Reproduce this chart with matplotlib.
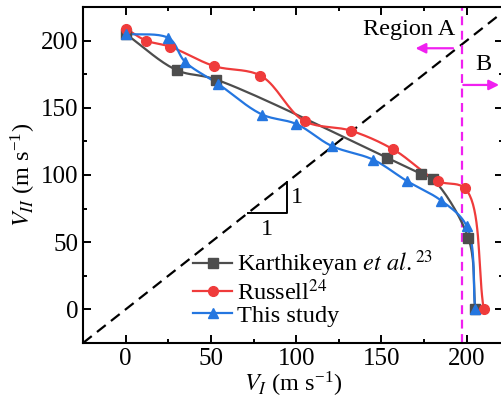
import numpy as np
import matplotlib
matplotlib.use("Agg")
import matplotlib.pyplot as plt

plt.rcParams['font.family'] = ['Liberation Serif', 'DejaVu Serif']
plt.rcParams['mathtext.fontset'] = 'stix'

# Velocity pairs (m/s)
karth_vi = [0, 30, 53, 153, 173, 180, 201, 205]
karth_vii = [205, 178, 171, 113, 101, 97, 53, 0]

russell_vi = [0, 12, 26, 52, 79, 105, 132, 157, 183, 199, 210]
russell_vii = [209, 200, 195.5, 181, 174, 140, 133, 119, 95.5, 90, 0]

study_vi = [0, 25, 35, 54, 80, 100, 121, 145, 165, 185, 200, 205]
study_vii = [205, 202, 184, 168, 145, 138, 121.5, 111.5, 95.5, 81, 62, 0]

boundary_vi = 197


def smooth_path(x, y, n=20):
    """Centripetal Catmull-Rom curve through the given points."""
    pts = np.column_stack([x, y]).astype(float)
    pts = np.vstack([2 * pts[0] - pts[1], pts, 2 * pts[-1] - pts[-2]])
    out = []
    for i in range(1, len(pts) - 2):
        p0, p1, p2, p3 = pts[i - 1], pts[i], pts[i + 1], pts[i + 2]
        t0 = 0.0
        t1 = t0 + np.linalg.norm(p1 - p0) ** 0.5
        t2 = t1 + np.linalg.norm(p2 - p1) ** 0.5
        t3 = t2 + np.linalg.norm(p3 - p2) ** 0.5
        t = np.linspace(t1, t2, n)[:, None]
        a1 = (t1 - t) / (t1 - t0) * p0 + (t - t0) / (t1 - t0) * p1
        a2 = (t2 - t) / (t2 - t1) * p1 + (t - t1) / (t2 - t1) * p2
        a3 = (t3 - t) / (t3 - t2) * p2 + (t - t2) / (t3 - t2) * p3
        b1 = (t2 - t) / (t2 - t0) * a1 + (t - t0) / (t2 - t0) * a2
        b2 = (t3 - t) / (t3 - t1) * a2 + (t - t1) / (t3 - t1) * a3
        c = (t2 - t) / (t2 - t1) * b1 + (t - t1) / (t2 - t1) * b2
        out.append(c if i == 1 else c[1:])
    c = np.vstack(out)
    return c[:, 0], c[:, 1]


fig = plt.figure(figsize=(5.01, 4.12), dpi=100)
# the right-hand frame sits just past the figure edge
ax = fig.add_axes([0.1657, 0.1675, 0.8383, 0.8155])

gray = '#4d4d4d'
red = '#ef3b3b'
blue = '#2476e0'
magenta = '#f020f0'
fs = 17.5

series = [
    (karth_vi, karth_vii, gray, 's', r'Karthikeyan $\it{et\ al.}$$^{23}$'),
    (russell_vi, russell_vii, red, 'o', r'Russell$^{24}$'),
    (study_vi, study_vii, blue, '^', 'This study'),
]
handles = []
for x, y, col, mk, lab in series:
    sx, sy = smooth_path(x, y)
    ax.plot(sx, sy, color=col, lw=1.6, zorder=3)
    ax.plot(x, y, ls='none', marker=mk, color=col, ms=7, zorder=4)
    h, = ax.plot([], [], color=col, lw=1.6, marker=mk, ms=7, label=lab)
    handles.append(h)

# 1:1 reference line
ax.plot([-25, 230], [-25, 230], ls=(0, (5, 3)), color='black', lw=1.6, zorder=2)
ax.axvline(boundary_vi, color=magenta, ls=(0, (4, 2.5)), lw=1.6, zorder=2)

# slope triangle
ax.plot([72, 94.5, 94.5], [72, 72, 94.5], color='black', lw=1.4)
ax.text(97, 83, '1', fontsize=fs, ha='left', va='center')
ax.text(83, 67, '1', fontsize=fs, ha='center', va='top')

# region labels
ax.text(166.5, 208, 'Region A', fontsize=fs, ha='center', va='center')
ax.annotate('', xy=(170, 194.3), xytext=(192, 194.3),
            arrowprops=dict(arrowstyle='-|>', color=magenta, lw=1.6,
                            mutation_scale=15, shrinkA=0, shrinkB=0))
ax.text(209.5, 182, 'B', fontsize=fs, ha='center', va='center')
ax.annotate('', xy=(219, 167), xytext=(198, 167),
            arrowprops=dict(arrowstyle='-|>', color=magenta, lw=1.6,
                            mutation_scale=15, shrinkA=0, shrinkB=0))

ax.set_xlim(-25, 221.3)
ax.set_ylim(-25, 225)
ax.set_xticks([0, 50, 100, 150, 200])
ax.set_yticks([0, 50, 100, 150, 200])
ax.set_xticks([25, 75, 125, 175], minor=True)
ax.set_yticks([25, 75, 125, 175], minor=True)
ax.tick_params(which='both', direction='in', top=True, right=True,
               labelsize=18, width=1.4)
ax.tick_params(which='major', length=6)
ax.tick_params(which='minor', length=3)
for s in ax.spines.values():
    s.set_linewidth(1.5)

ax.set_xlabel(r'$V_{I}$ (m s$^{\mathregular{-1}}$)', fontsize=fs, labelpad=0)
ax.set_ylabel(r'$V_{II}$ (m s$^{\mathregular{-1}}$)', fontsize=fs, labelpad=2)

ax.legend(handles=handles, loc='upper left', bbox_to_anchor=(0.239, 0.31),
          frameon=False, fontsize=fs, handlelength=1.6, handletextpad=0.2,
          labelspacing=0.0, borderaxespad=0)

fig.savefig('out.png', dpi=100)
